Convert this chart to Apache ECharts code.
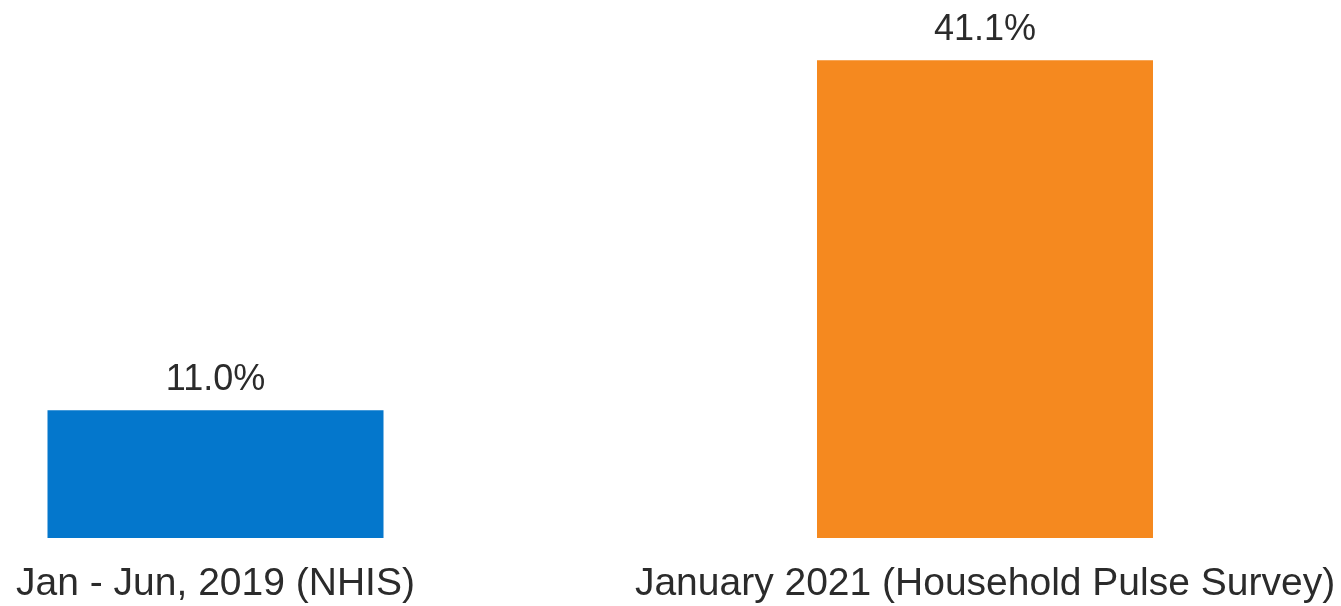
<!DOCTYPE html>
<html>
<head>
<meta charset="utf-8">
<style>
  html, body { margin: 0; padding: 0; background: #ffffff; }
  #chart { width: 1341px; height: 606px; }
</style>
<script src="https://cdn.jsdelivr.net/npm/echarts@6/dist/echarts.min.js"></script>
</head>
<body>
<div id="chart"></div>
<script>
// Period / source labels along the bottom
const categories = ['Jan - Jun, 2019 (NHIS)', 'January 2021 (Household Pulse Survey)'];
// Share of adults, percent
const values = [11.0, 41.1];
const barColors = ['#0477cc', '#f5891f'];

const chart = echarts.init(document.getElementById('chart'), null, { renderer: 'canvas' });

chart.setOption({
  animation: false,
  backgroundColor: '#ffffff',
  grid: { left: 215.5, right: 356, top: 15, bottom: 68, containLabel: false },
  xAxis: {
    type: 'category',
    data: categories,
    boundaryGap: false,
    axisLine: { show: false },
    axisTick: { show: false },
    splitLine: { show: false },
    axisLabel: {
      interval: 0,
      margin: 27,
      color: '#2b2b2b',
      fontFamily: 'Liberation Sans, Arial, sans-serif',
      fontSize: 39
    }
  },
  yAxis: {
    type: 'value',
    min: 0,
    max: 45,
    show: false,
    splitLine: { show: false }
  },
  series: [{
    type: 'bar',
    barWidth: 336,
    data: values.map((v, i) => ({ value: v, itemStyle: { color: barColors[i] } })),
    label: {
      show: true,
      position: 'top',
      distance: 12,
      color: '#2b2b2b',
      fontFamily: 'Liberation Sans, Arial, sans-serif',
      fontSize: 36,
      formatter: p => p.value.toFixed(1) + '%'
    }
  }]
});
</script>
</body>
</html>
